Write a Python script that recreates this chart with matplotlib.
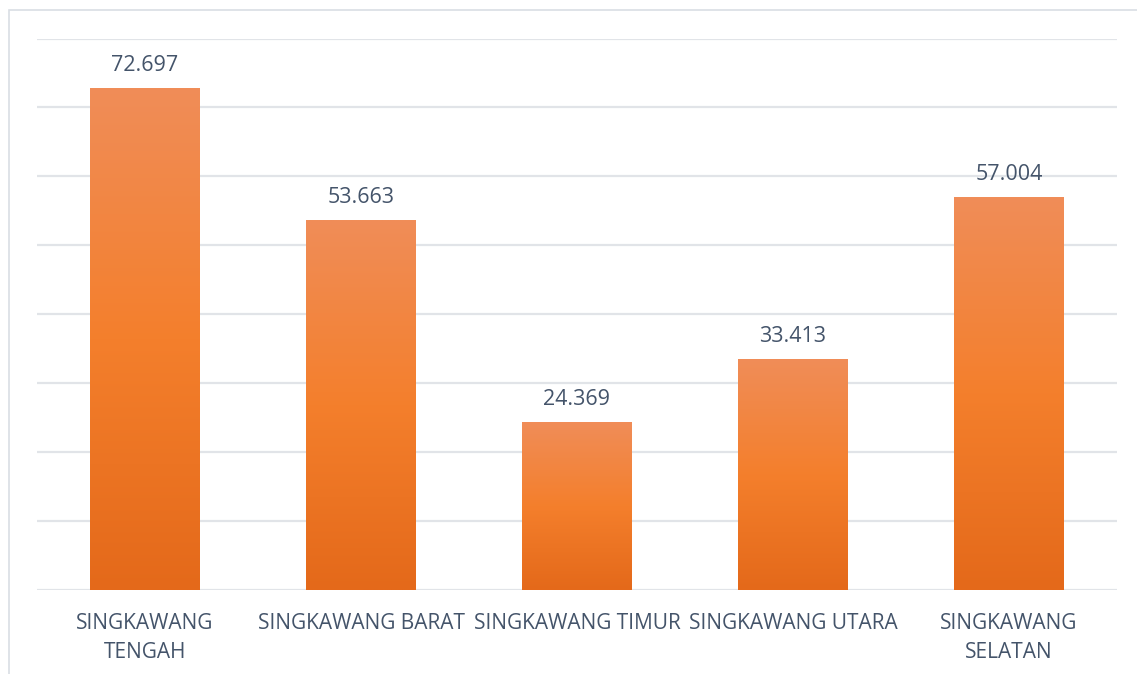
import numpy as np
import matplotlib
matplotlib.use("Agg")
import matplotlib.pyplot as plt
from matplotlib.colors import LinearSegmentedColormap
from matplotlib.patches import Rectangle

# --- Data ---
categories = ["SINGKAWANG\nTENGAH", "SINGKAWANG BARAT", "SINGKAWANG TIMUR",
              "SINGKAWANG UTARA", "SINGKAWANG\nSELATAN"]
values = [72.697, 53.663, 24.369, 33.413, 57.004]
value_labels = ["72.697", "53.663", "24.369", "33.413", "57.004"]

# --- Style ---
TEXT_COLOR = "#44546A"
GRID_COLOR = "#E1E4E8"
plt.rcParams['font.family'] = ['Open Sans', 'DejaVu Sans']

bar_cmap = LinearSegmentedColormap.from_list(
    "orange_grad", ["#E4691A", "#F47F2C", "#F08D58"])

fig = plt.figure(figsize=(11.37, 6.74), dpi=100)
W, H = 1137, 674
ax = fig.add_axes([37 / W, (H - 590) / H, (1117 - 37) / W, (590 - 38.5) / H])

x = np.arange(len(categories))
bar_w = 0.505

# gridlines
ax.set_yticks(np.arange(0, 81, 10))
ax.yaxis.grid(True, color=GRID_COLOR, linewidth=1.6)
ax.set_axisbelow(True)
ax.tick_params(axis='y', length=0, labelleft=False)

# bars with vertical gradient
grad = np.linspace(0, 1, 256).reshape(-1, 1)
for xi, v, lab in zip(x, values, value_labels):
    ax.imshow(grad, cmap=bar_cmap, origin='lower', aspect='auto',
              extent=(xi - bar_w / 2, xi + bar_w / 2, 0, v), zorder=2)
    ax.text(xi, v + 1.8, lab, ha='center', va='bottom', fontsize=15.5,
            color=TEXT_COLOR, zorder=3)
ax.set_xlim(-0.5, len(categories) - 0.5)
ax.set_ylim(0, 80)

ax.set_xticks(x)
ax.set_xticklabels(categories, fontsize=15, color=TEXT_COLOR, linespacing=1.5)
ax.tick_params(axis='x', length=0, pad=16.5)

for s in ax.spines.values():
    s.set_visible(False)

# chart area border
fig.patches.append(Rectangle((8.5 / W, -0.1), 1.2, (H - 9.5) / H + 0.1,
                             transform=fig.transFigure, fill=False,
                             edgecolor="#D9DEE4", linewidth=1.2))

fig.savefig("out.png", dpi=100)
